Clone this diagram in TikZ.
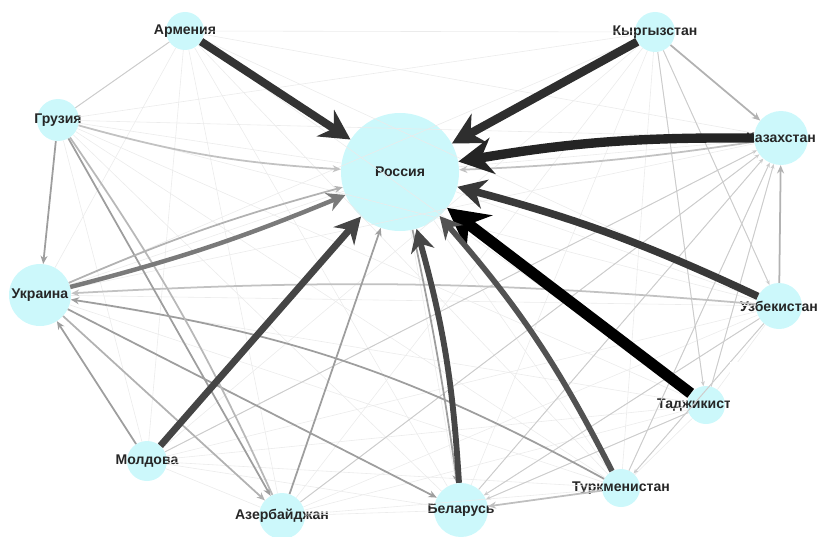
\documentclass[tikz,border=0pt]{standalone}
\usepackage{fontspec}
\setmainfont{Liberation Sans}
\usetikzlibrary{arrows.meta}
\definecolor{nodecyan}{HTML}{CCF8FB}

\tikzset{
  country/.style={circle,fill=nodecyan,inner sep=0pt,minimum size=#1*0.06cm},
  lbl/.style={font=\bfseries\fontsize{12}{14}\selectfont,text=black!85},
  web/.style={draw=black!8,line width=0.5pt},
  faint/.style={draw=black!20,line width=0.8pt,-{Stealth[length=4pt,width=3.5pt]}},
  link/.style={draw=black!38,line width=1.5pt,-{Stealth[length=7pt,width=6pt]}},
  flow/.style={line width=#1,-{Stealth[length=3pt 3.3,width=3pt 3.5]}},
}

\begin{document}
\begin{tikzpicture}[x=0.03cm,y=-0.03cm]
 \useasboundingbox (0,0) rectangle (822,536);
 % countries
 \node[country=19,label={[lbl]center:Армения}] (arm) at (185,31) {};
 \node[country=20,label={[lbl]center:Кыргызстан}] (kgz) at (655,32) {};
 \node[country=21,label={[lbl]center:Грузия}] (geo) at (58,120) {};
 \node[country=59,label={[lbl]center:Россия}] (rus) at (400,172) {};
 \node[country=27,label={[lbl]center:Казахстан}] (kaz) at (781,138) {};
 \node[country=31,label={[lbl]center:Украина}] (ukr) at (40,295) {};
 \node[country=23,label={[lbl]center:Узбекистан}] (uzb) at (779,306) {};
 \node[country=19,label={[lbl,xshift=-0.36cm]center:Таджикист}] (tjk) at (706,405) {};
 \node[country=20,label={[lbl]center:Молдова}] (mda) at (147,461) {};
 \node[country=23,label={[lbl]center:Азербайджан}] (aze) at (282,516) {};
 \node[country=27,label={[lbl]center:Беларусь}] (blr) at (461,510) {};
 \node[country=19,label={[lbl]center:Туркменистан}] (tkm) at (621,488) {};

 % background web of small flows
 \foreach \a [count=\i] in {arm,kgz,geo,rus,kaz,ukr,uzb,tjk,mda,aze,blr,tkm}
  \foreach \b [count=\j] in {arm,kgz,geo,rus,kaz,ukr,uzb,tjk,mda,aze,blr,tkm}
   {\ifnum\j>\i \draw[web] (\a) -- (\b);\fi}
 \foreach \a in {tkm,blr,aze,tjk,mda}
  \draw[faint] (\a) -- (kaz);
 \draw[faint] (uzb) -- (blr);
 \draw[faint] (uzb) -- (tkm);
 \draw[faint] (tjk) -- (blr);
 \draw[faint] (kgz) -- (tjk);
 \draw[faint] (kgz) -- (uzb);
 \draw[faint,-] (arm) -- (geo);

 % medium flows
 \draw[link] (geo) -- (ukr);
 \draw[link,draw=black!24] (geo) to[bend right=6] (rus);
 \draw[link] (mda) -- (ukr);
 \draw[link] (tkm) to[bend right=10] (ukr);
 \draw[link,draw=black!24] (uzb) to[bend right=4] (ukr);
 \draw[link] (ukr) -- (blr);
 \draw[link,draw=black!30] (ukr) -- (aze);
 \draw[link] (geo) -- (aze);
 \draw[link,draw=black!28,-] (geo) to[bend left=5] (aze);
 \draw[link] (aze) -- (rus);
 \draw[link] (rus) to[bend left=2] (blr);
 \draw[link,draw=black!30] (kgz) -- (kaz);
 \draw[link,draw=black!30] (uzb) -- (kaz);
 \draw[link,draw=black!30] (ukr) to[bend left=4] (rus);
 \draw[link,draw=black!24] (kaz) to[bend left=3] (rus);
 \draw[link,draw=black!25] (tkm) -- (blr);

 % main flows to Russia
 \draw[flow=6.8pt,draw=black!80] (arm) -- (rus);
 \draw[flow=7.2pt,draw=black!82] (kgz) -- (rus);
 \draw[flow=8pt,draw=black!86] (kaz) to[bend right=5] (rus);
 \draw[flow=6.4pt,draw=black!78] (uzb) to[bend right=5] (rus);
 \draw[flow=9.5pt,draw=black] (tjk) -- (rus);
 \draw[flow=4.8pt,draw=black!68] (tkm) to[bend right=7] (rus);
 \draw[flow=5pt,draw=black!72] (blr) to[bend right=6] (rus);
 \draw[flow=5.8pt,draw=black!73] (mda) -- (rus);
 \draw[flow=3.8pt,draw=black!52] (ukr) to[bend right=4] (rus);

 \fill[white] (730,362) rectangle (822,470);
\end{tikzpicture}
\end{document}
